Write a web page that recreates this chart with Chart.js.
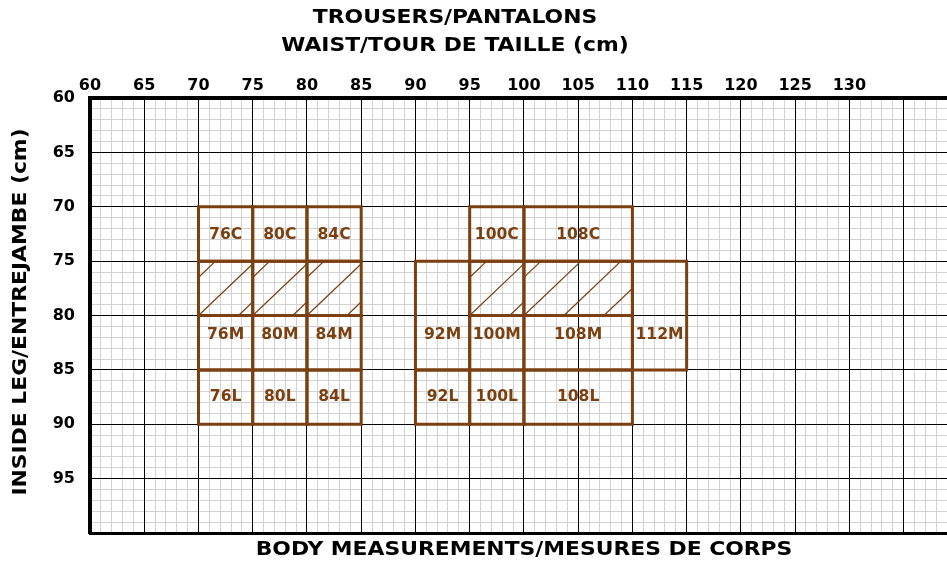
<!DOCTYPE html>
<html>
<head>
<meta charset="utf-8">
<script src="https://cdn.jsdelivr.net/npm/chart.js@4.4.1/dist/chart.umd.min.js"></script>
<style>
  html, body { margin: 0; padding: 0; background: #fff; }
  #wrap { width: 947px; height: 562px; }
</style>
</head>
<body>
<div id="wrap"><canvas id="sizeChart"></canvas></div>
<script>
const brown = '#7b3f10';

// size boxes: waist range (x) and inside-leg range (y), in cm
const sizeLabels = ['76C', '80C', '84C', '76M', '80M', '84M', '76L', '80L', '84L',
                    '100C', '108C', '92M', '100M', '108M', '112M', '92L', '100L', '108L'];
const waistFrom = [70, 75, 80, 70, 75, 80, 70, 75, 80, 95, 100, 90, 95, 100, 110, 90, 95, 100];
const waistTo   = [75, 80, 85, 75, 80, 85, 75, 80, 85, 100, 110, 95, 100, 110, 115, 95, 100, 110];
const legFrom   = [70, 70, 70, 80, 80, 80, 85, 85, 85, 70, 70, 75, 80, 80, 75, 85, 85, 85];
const legTo     = [75, 75, 75, 85, 85, 85, 90, 90, 90, 75, 75, 85, 85, 85, 85, 90, 90, 90];
const labelLeg  = [72.6, 72.6, 72.6, 81.8, 81.8, 81.8, 87.5, 87.5, 87.5,
                   72.6, 72.6, 81.8, 81.8, 81.8, 81.8, 87.5, 87.5, 87.5];

// hatched (no size) cells
const hatchFrom = [70, 75, 80, 95, 100];
const hatchTo   = [75, 80, 85, 100, 110];
const hatchLegFrom = 75;
const hatchLegTo = 80;

const waistTicks = [60, 65, 70, 75, 80, 85, 90, 95, 100, 105, 110, 115, 120, 125, 130];
const legTicks = [60, 65, 70, 75, 80, 85, 90, 95];

const tickFont = { family: 'DejaVu Sans', weight: 'bold', size: 16 };

function majorColor(ctx) {
    if (!ctx.tick) return 'rgba(0,0,0,0)';
    return ctx.tick.value % 5 === 0 ? '#000' : 'rgba(0,0,0,0)';
}

function boxData(x0, x1, y0, y1) {
    return [
        { x: x0, y: y0 }, { x: x1, y: y0 }, { x: x1, y: y1 },
        { x: x0, y: y1 }, { x: x0, y: y0 },
    ];
}

const boxStyle = {
    showLine: true,
    fill: false,
    borderColor: brown,
    borderWidth: 3,
    borderJoinStyle: 'miter',
    borderCapStyle: 'square',
    pointRadius: 0,
    tension: 0,
};

const datasets = sizeLabels.map((name, i) => ({
    label: name,
    data: boxData(waistFrom[i], waistTo[i], legFrom[i], legTo[i]),
    ...boxStyle,
})).concat(hatchFrom.map((from, i) => ({
    label: 'hatch' + i,
    data: boxData(from, hatchTo[i], hatchLegFrom, hatchLegTo),
    ...boxStyle,
})));

const hatchPlugin = {
    id: 'hatch',
    beforeDatasetsDraw(chart) {
        const { ctx, scales: { x, y } } = chart;
        ctx.save();
        ctx.strokeStyle = brown;
        ctx.lineWidth = 1.2;
        hatchFrom.forEach((from, i) => {
            const left = x.getPixelForValue(from);
            const right = x.getPixelForValue(hatchTo[i]);
            const top = y.getPixelForValue(hatchLegFrom);
            const bottom = y.getPixelForValue(hatchLegTo);
            const h = bottom - top;
            const run = h * 1.05;
            ctx.save();
            ctx.beginPath();
            ctx.rect(left, top, right - left, h);
            ctx.clip();
            ctx.beginPath();
            for (let x0 = left - 2 * 40; x0 < right; x0 += 40) {
                ctx.moveTo(x0, bottom);
                ctx.lineTo(x0 + run, top);
            }
            ctx.stroke();
            ctx.restore();
        });
        ctx.restore();
    },
};

function wideText(ctx, text, cx, cy, rot, sx) {
    ctx.save();
    ctx.translate(cx, cy);
    if (rot) ctx.rotate(rot);
    ctx.scale(sx || 1.15, 1);
    ctx.fillText(text, 0, 0);
    ctx.restore();
}

const labelPlugin = {
    id: 'sizeLabels',
    afterDatasetsDraw(chart) {
        const { ctx, scales: { x, y } } = chart;
        ctx.save();
        ctx.fillStyle = brown;
        ctx.font = 'bold 15px "DejaVu Sans"';
        ctx.textAlign = 'center';
        ctx.textBaseline = 'middle';
        sizeLabels.forEach((name, i) => {
            const cx = x.getPixelForValue((waistFrom[i] + waistTo[i]) / 2);
            const cy = y.getPixelForValue(labelLeg[i]);
            wideText(ctx, name, cx, cy, 0, 1.04);
        });
        ctx.restore();
    },
};

const titlePlugin = {
    id: 'titles',
    afterDraw(chart) {
        const ctx = chart.ctx;
        ctx.save();
        ctx.fillStyle = '#000';
        ctx.font = 'bold 19px "DejaVu Sans"';
        ctx.textAlign = 'center';
        ctx.textBaseline = 'middle';
        wideText(ctx, 'TROUSERS/PANTALONS', 455, 18);
        wideText(ctx, 'WAIST/TOUR DE TAILLE (cm)', 455, 46);
        wideText(ctx, 'BODY MEASUREMENTS/MESURES DE CORPS', 524, 550);
        wideText(ctx, 'INSIDE LEG/ENTREJAMBE (cm)', 21, 312, -Math.PI / 2);
        ctx.restore();
    },
};

new Chart(document.getElementById('sizeChart'), {
    type: 'scatter',
    data: { datasets },
    plugins: [hatchPlugin, labelPlugin, titlePlugin],
    options: {
        responsive: true,
        maintainAspectRatio: false,
        animation: false,
        events: [],
        layout: { padding: 0 },
        plugins: {
            legend: { display: false },
            tooltip: { enabled: false },
            title: { display: false },
        },
        scales: {
            // light 1 cm grid, drawn first
            xMinor: {
                type: 'linear',
                position: 'top',
                min: 60,
                max: 139,
                afterFit: (s) => { s.height = 0; s.paddingLeft = 0; s.paddingRight = 0; },
                ticks: { display: false, stepSize: 1, autoSkip: false, maxTicksLimit: 200 },
                grid: { color: '#d2d2d2', lineWidth: 1, drawTicks: false },
                border: { display: false },
            },
            yMinor: {
                type: 'linear',
                position: 'left',
                reverse: true,
                min: 60,
                max: 100,
                afterFit: (s) => { s.width = 0; },
                ticks: { display: false, stepSize: 1, autoSkip: false, maxTicksLimit: 200 },
                grid: { color: '#d2d2d2', lineWidth: 1, drawTicks: false },
                border: { display: false },
            },
            xBottom: {
                type: 'linear',
                position: 'bottom',
                min: 60,
                max: 139,
                afterFit: (s) => { s.height = 29; s.paddingLeft = 0; s.paddingRight = 0; },
                ticks: { display: false },
                grid: { display: false },
                border: { display: true, color: '#000', width: 3 },
            },
            x: {
                type: 'linear',
                position: 'top',
                min: 60,
                max: 139,
                afterFit: (s) => { s.height = 98; s.paddingLeft = 0; s.paddingRight = 0; },
                ticks: {
                    stepSize: 5,
                    autoSkip: false,
                    maxRotation: 0,
                    minRotation: 0,
                    padding: 3,
                    color: '#000',
                    font: tickFont,
                    callback: (v) => (waistTicks.includes(v) ? String(v) : ''),
                },
                grid: { color: majorColor, lineWidth: 1, drawTicks: false },
                border: { color: '#000', width: 4 },
            },
            y: {
                type: 'linear',
                position: 'left',
                reverse: true,
                min: 60,
                max: 100,
                afterFit: (s) => { s.width = 90; },
                ticks: {
                    stepSize: 5,
                    autoSkip: false,
                    padding: 15,
                    color: '#000',
                    font: tickFont,
                    callback: (v) => (legTicks.includes(v) ? String(v) : ''),
                },
                grid: { color: majorColor, lineWidth: 1, drawTicks: false },
                border: { color: '#000', width: 4 },
            },
        },
    },
});
</script>
</body>
</html>
